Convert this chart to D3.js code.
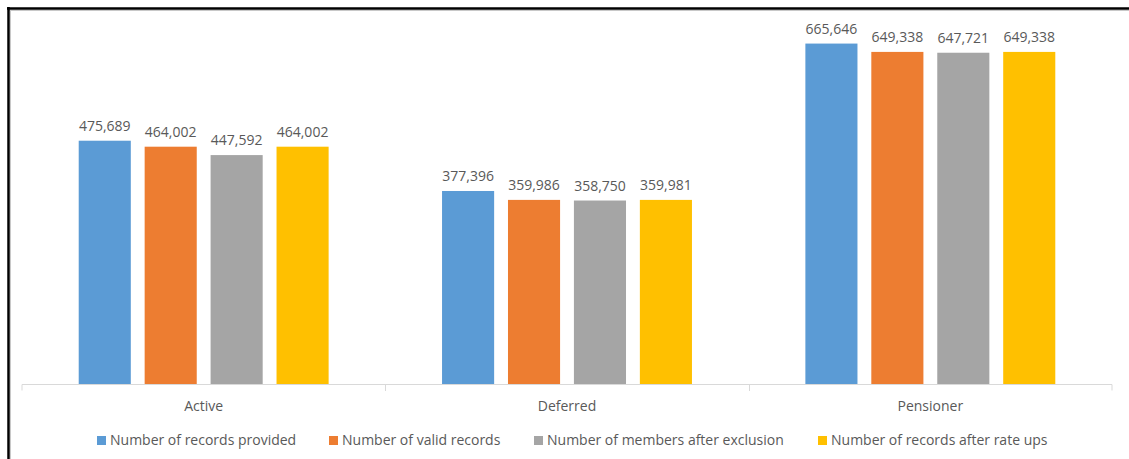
<!DOCTYPE html>
<html>
<head>
<meta charset="utf-8">
<script src="https://cdn.jsdelivr.net/npm/d3@7"></script>
<style>
  html, body { margin: 0; padding: 0; background: #fff; }
  svg { display: block; }
  text { font-family: "Open Sans", "Liberation Sans", sans-serif; fill: #595959; }
</style>
</head>
<body>
<svg id="chart" width="1129" height="459"></svg>
<script>
// Member record counts by status at each data-cleaning step
const categories = ["Active", "Deferred", "Pensioner"];
const seriesNames = [
  "Number of records provided",
  "Number of valid records",
  "Number of members after exclusion",
  "Number of records after rate ups"
];
const recordsProvided = [475689, 377396, 665646];
const validRecords = [464002, 359986, 649338];
const afterExclusion = [447592, 358750, 647721];
const afterRateUps = [464002, 359981, 649338];
const seriesColors = ["#5B9BD5", "#ED7D31", "#A5A5A5", "#FFC000"];
const yMax = 700000;

const seriesValues = [recordsProvided, validRecords, afterExclusion, afterRateUps];

const svg = d3.select("#chart");
const W = 1129, H = 459;

// Frame: dark top and left edges with a light inner line
svg.append("rect").attr("x", 0).attr("y", 0).attr("width", W).attr("height", H).attr("fill", "#fff");
svg.append("line").attr("x1", 8).attr("x2", W).attr("y1", 10.5).attr("y2", 10.5).attr("stroke", "#c8c8c8").attr("stroke-width", 1);
svg.append("line").attr("x1", 10.5).attr("x2", 10.5).attr("y1", 10).attr("y2", H).attr("stroke", "#c8c8c8").attr("stroke-width", 1);
svg.append("line").attr("x1", 7).attr("x2", W).attr("y1", 8.5).attr("y2", 8.5).attr("stroke", "#000").attr("stroke-width", 2.5);
svg.append("line").attr("x1", 8.5).attr("x2", 8.5).attr("y1", 7).attr("y2", H).attr("stroke", "#000").attr("stroke-width", 2.5);

const plot = { left: 22, right: 1112, top: 26, bottom: 384 };

const x0 = d3.scaleBand().domain(categories).range([plot.left, plot.right]).paddingInner(0).paddingOuter(0);
const x1 = d3.scaleBand().domain(d3.range(seriesNames.length)).range([0, x0.bandwidth()]).paddingOuter(0.86).paddingInner(0.21);
const y = d3.scaleLinear().domain([0, yMax]).range([plot.bottom, plot.top]);

// Bars
const groups = svg.append("g").selectAll("g").data(categories).join("g")
  .attr("transform", d => `translate(${x0(d)},0)`);

groups.each(function(cat, ci) {
  const g = d3.select(this);
  const rows = seriesValues.map((vals, si) => ({ si, v: vals[ci] }));
  g.selectAll("rect").data(rows).join("rect")
    .attr("x", d => x1(d.si))
    .attr("width", x1.bandwidth())
    .attr("y", d => y(d.v))
    .attr("height", d => y(0) - y(d.v))
    .attr("fill", d => seriesColors[d.si]);
  g.selectAll("text.val").data(rows).join("text")
    .attr("class", "val")
    .attr("x", d => x1(d.si) + x1.bandwidth() / 2)
    .attr("y", d => y(d.v) - 10)
    .attr("text-anchor", "middle")
    .attr("font-size", 14)
    .text(d => d3.format(",")(d.v));
});

// Category axis
const xAxis = d3.axisBottom(x0).tickSize(0).tickPadding(17);
const axisG = svg.append("g").attr("transform", `translate(0,${plot.bottom})`).call(xAxis);
axisG.select(".domain").attr("stroke", "#d9d9d9").attr("d", `M${plot.left},6.5V0.5H${plot.right}V6.5`);
axisG.selectAll(".tick text").attr("font-size", 14).attr("fill", "#595959")
  .style("font-family", "'Open Sans', 'Liberation Sans', sans-serif");
// Dividers between categories
svg.append("g").selectAll("line").data(categories.slice(1)).join("line")
  .attr("x1", d => Math.round(x0(d)) + 0.5).attr("x2", d => Math.round(x0(d)) + 0.5)
  .attr("y1", plot.bottom).attr("y2", plot.bottom + 7)
  .attr("stroke", "#d9d9d9");

// Legend
const legendX = [97, 329, 534, 818];
const legend = svg.append("g").selectAll("g").data(seriesNames).join("g")
  .attr("transform", (d, i) => `translate(${legendX[i]},436)`);
legend.append("rect").attr("width", 9).attr("height", 9).attr("fill", (d, i) => seriesColors[i]);
legend.append("text").attr("x", 13).attr("y", 9).attr("font-size", 14).text(d => d);
</script>
</body>
</html>
